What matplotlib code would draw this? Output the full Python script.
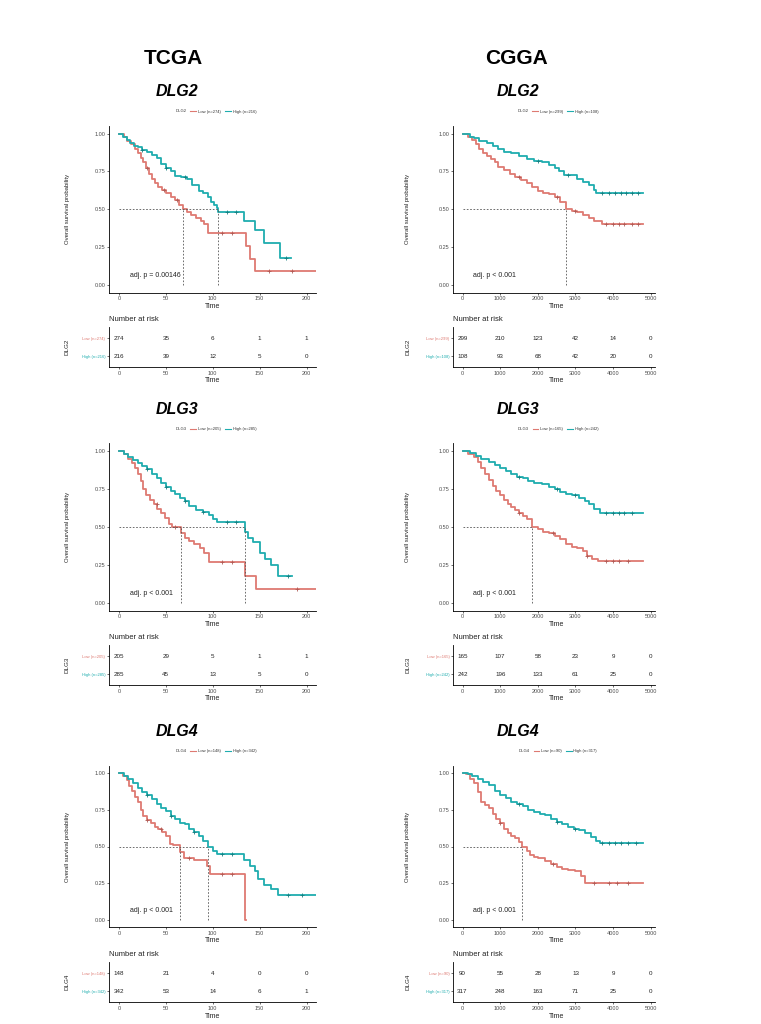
import numpy as np
import matplotlib
matplotlib.use("Agg")
import matplotlib.pyplot as plt
from matplotlib.lines import Line2D

plt.rcParams['font.family'] = ['Liberation Sans', 'DejaVu Sans']

# ---------------- data ----------------
genes = ["DLG2", "DLG3", "DLG4"]
cohorts = ["TCGA", "CGGA"]

# TCGA curves (time, survival) step points
tcga_dlg2_low_t = [0, 5, 9, 13, 17, 20, 23, 26, 29, 32, 35, 38, 42, 46, 50, 55, 60, 64, 68, 72, 77, 82, 87, 91, 95, 135, 140, 145, 210]
tcga_dlg2_low_s = [1.0, 0.98, 0.95, 0.93, 0.90, 0.87, 0.84, 0.81, 0.77, 0.73, 0.70, 0.67, 0.65, 0.63, 0.61, 0.58, 0.56, 0.53, 0.50, 0.48, 0.46, 0.44, 0.42, 0.40, 0.34, 0.26, 0.17, 0.09, 0.09]
tcga_dlg2_high_t = [0, 4, 8, 12, 16, 20, 25, 30, 35, 40, 45, 50, 55, 60, 66, 72, 78, 85, 90, 95, 98, 101, 104, 106, 133, 145, 155, 172, 183]
tcga_dlg2_high_s = [1.0, 0.98, 0.96, 0.94, 0.92, 0.91, 0.89, 0.88, 0.86, 0.84, 0.80, 0.77, 0.75, 0.72, 0.71, 0.70, 0.66, 0.62, 0.61, 0.58, 0.55, 0.53, 0.51, 0.48, 0.42, 0.36, 0.28, 0.18, 0.18]

tcga_dlg3_low_t = [0, 5, 10, 14, 17, 20, 23, 26, 29, 33, 37, 41, 45, 49, 53, 57, 66, 70, 75, 80, 86, 91, 96, 134, 146, 210]
tcga_dlg3_low_s = [1.0, 0.98, 0.95, 0.92, 0.89, 0.85, 0.80, 0.75, 0.71, 0.68, 0.65, 0.62, 0.59, 0.56, 0.52, 0.50, 0.46, 0.43, 0.41, 0.39, 0.36, 0.33, 0.27, 0.18, 0.09, 0.09]
tcga_dlg3_high_t = [0, 5, 10, 15, 20, 25, 30, 35, 40, 45, 50, 55, 60, 65, 70, 75, 82, 90, 96, 100, 105, 134, 138, 143, 150, 156, 162, 170, 184]
tcga_dlg3_high_s = [1.0, 0.98, 0.96, 0.94, 0.92, 0.90, 0.88, 0.85, 0.82, 0.79, 0.76, 0.74, 0.72, 0.69, 0.67, 0.64, 0.61, 0.60, 0.58, 0.55, 0.53, 0.47, 0.43, 0.40, 0.33, 0.29, 0.25, 0.18, 0.18]

tcga_dlg4_low_t = [0, 4, 8, 11, 14, 17, 20, 23, 26, 30, 34, 38, 42, 46, 50, 54, 58, 65, 69, 80, 94, 97, 134, 135]
tcga_dlg4_low_s = [1.0, 0.98, 0.95, 0.91, 0.88, 0.84, 0.80, 0.75, 0.71, 0.68, 0.66, 0.63, 0.62, 0.60, 0.57, 0.52, 0.51, 0.46, 0.42, 0.41, 0.37, 0.31, 0.0, 0.0]
tcga_dlg4_high_t = [0, 5, 10, 15, 20, 25, 30, 35, 40, 45, 50, 55, 60, 65, 70, 75, 80, 85, 90, 95, 100, 105, 133, 140, 145, 148, 155, 162, 170, 210]
tcga_dlg4_high_s = [1.0, 0.98, 0.96, 0.93, 0.90, 0.87, 0.85, 0.82, 0.79, 0.76, 0.74, 0.71, 0.69, 0.66, 0.65, 0.62, 0.60, 0.57, 0.54, 0.50, 0.47, 0.45, 0.41, 0.37, 0.33, 0.28, 0.24, 0.21, 0.17, 0.17]

# CGGA curves
cgga_dlg2_low_t = [0, 150, 250, 350, 450, 550, 650, 750, 850, 950, 1100, 1250, 1400, 1550, 1700, 1850, 2000, 2150, 2300, 2450, 2600, 2750, 2900, 3050, 3200, 3350, 3500, 3700, 4800]
cgga_dlg2_low_s = [1.0, 0.98, 0.96, 0.93, 0.90, 0.87, 0.85, 0.83, 0.81, 0.78, 0.76, 0.73, 0.71, 0.69, 0.67, 0.65, 0.62, 0.61, 0.60, 0.58, 0.55, 0.50, 0.49, 0.48, 0.46, 0.44, 0.42, 0.40, 0.40]
cgga_dlg2_high_t = [0, 200, 300, 450, 650, 800, 950, 1100, 1300, 1500, 1700, 1900, 2100, 2300, 2450, 2550, 2700, 3050, 3200, 3350, 3500, 3550, 4800]
cgga_dlg2_high_s = [1.0, 0.98, 0.97, 0.95, 0.94, 0.92, 0.90, 0.88, 0.87, 0.85, 0.83, 0.82, 0.81, 0.79, 0.77, 0.75, 0.725, 0.70, 0.68, 0.66, 0.63, 0.61, 0.61]

cgga_dlg3_low_t = [0, 150, 300, 400, 500, 600, 700, 800, 900, 1000, 1100, 1200, 1300, 1400, 1500, 1600, 1700, 1850, 2000, 2150, 2300, 2450, 2600, 2750, 2900, 3050, 3200, 3300, 3450, 3600, 4800]
cgga_dlg3_low_s = [1.0, 0.98, 0.96, 0.93, 0.89, 0.85, 0.81, 0.77, 0.74, 0.71, 0.68, 0.65, 0.63, 0.61, 0.59, 0.57, 0.55, 0.50, 0.49, 0.47, 0.46, 0.44, 0.42, 0.39, 0.37, 0.36, 0.34, 0.31, 0.29, 0.275, 0.275]
cgga_dlg3_high_t = [0, 200, 350, 500, 700, 850, 1000, 1150, 1300, 1450, 1600, 1750, 1900, 2100, 2300, 2450, 2600, 2750, 2900, 3100, 3250, 3350, 3500, 3650, 4800]
cgga_dlg3_high_s = [1.0, 0.99, 0.97, 0.95, 0.93, 0.91, 0.89, 0.87, 0.85, 0.83, 0.82, 0.80, 0.79, 0.78, 0.765, 0.75, 0.73, 0.72, 0.71, 0.69, 0.67, 0.65, 0.62, 0.595, 0.595]

cgga_dlg4_low_t = [0, 100, 200, 300, 400, 500, 600, 700, 800, 900, 1000, 1100, 1200, 1300, 1400, 1500, 1590, 1700, 1800, 1900, 2000, 2200, 2350, 2500, 2650, 2800, 3000, 3150, 3250, 4800]
cgga_dlg4_low_s = [1.0, 0.99, 0.96, 0.93, 0.87, 0.80, 0.78, 0.76, 0.72, 0.69, 0.66, 0.62, 0.59, 0.57, 0.555, 0.53, 0.50, 0.47, 0.44, 0.43, 0.42, 0.40, 0.38, 0.36, 0.35, 0.34, 0.33, 0.30, 0.255, 0.255]
cgga_dlg4_high_t = [0, 150, 250, 400, 550, 700, 850, 1000, 1150, 1300, 1450, 1600, 1750, 1900, 2050, 2200, 2350, 2500, 2650, 2800, 2950, 3100, 3250, 3400, 3550, 3650, 4800]
cgga_dlg4_high_s = [1.0, 0.99, 0.98, 0.96, 0.94, 0.915, 0.88, 0.85, 0.83, 0.80, 0.79, 0.775, 0.75, 0.735, 0.72, 0.715, 0.69, 0.67, 0.65, 0.635, 0.62, 0.61, 0.59, 0.565, 0.54, 0.525, 0.525]

# censor marks (times)
tcga_censor_low = [[30, 48, 62, 110, 120, 160, 185], [40, 60, 110, 120, 190], [30, 45, 75, 110, 120]]
tcga_censor_high = [[25, 50, 70, 115, 125, 178], [30, 50, 70, 90, 115, 125, 180], [30, 55, 80, 110, 120, 180, 195]]
cgga_censor_low = [[1500, 2500, 3000, 3800, 4000, 4150, 4300, 4500, 4650], [1500, 2400, 3300, 3800, 4000, 4150, 4400], [1000, 2400, 3500, 3900, 4100, 4400]]
cgga_censor_high = [[2000, 2800, 3700, 3900, 4050, 4200, 4350, 4500, 4650], [1500, 2500, 3000, 3800, 4000, 4150, 4300, 4500], [1500, 2500, 3000, 3700, 3900, 4050, 4200, 4400, 4600]]

# group sizes
tcga_n_low = [274, 205, 148]
tcga_n_high = [216, 285, 342]
cgga_n_low = [299, 165, 90]
cgga_n_high = [108, 242, 317]

# number at risk
tcga_risk_times = [0, 50, 100, 150, 200]
tcga_risk_low = [[274, 35, 6, 1, 1], [205, 29, 5, 1, 1], [148, 21, 4, 0, 0]]
tcga_risk_high = [[216, 39, 12, 5, 0], [285, 45, 13, 5, 0], [342, 53, 14, 6, 1]]
cgga_risk_times = [0, 1000, 2000, 3000, 4000, 5000]
cgga_risk_low = [[299, 210, 123, 42, 14, 0], [165, 107, 58, 23, 9, 0], [90, 55, 28, 13, 9, 0]]
cgga_risk_high = [[108, 93, 68, 42, 20, 0], [242, 196, 133, 61, 25, 0], [317, 248, 163, 71, 25, 0]]

# median survival and p values
tcga_medians = [[68, 106], [66, 134], [65, 95]]
cgga_medians = [[2750], [1850], [1590]]
tcga_pvals = ["adj. p = 0.00146", "adj. p < 0.001", "adj. p < 0.001"]
cgga_pvals = ["adj. p < 0.001", "adj. p < 0.001", "adj. p < 0.001"]

tcga_curves = [
    (tcga_dlg2_low_t, tcga_dlg2_low_s, tcga_dlg2_high_t, tcga_dlg2_high_s),
    (tcga_dlg3_low_t, tcga_dlg3_low_s, tcga_dlg3_high_t, tcga_dlg3_high_s),
    (tcga_dlg4_low_t, tcga_dlg4_low_s, tcga_dlg4_high_t, tcga_dlg4_high_s),
]
cgga_curves = [
    (cgga_dlg2_low_t, cgga_dlg2_low_s, cgga_dlg2_high_t, cgga_dlg2_high_s),
    (cgga_dlg3_low_t, cgga_dlg3_low_s, cgga_dlg3_high_t, cgga_dlg3_high_s),
    (cgga_dlg4_low_t, cgga_dlg4_low_s, cgga_dlg4_high_t, cgga_dlg4_high_s),
]

# ---------------- layout (pixels) ----------------
W, H = 761, 1024
RED = "#DE7A72"
TEAL = "#1FADAF"
GREY = "#4D4D4D"

one_y = [133.5, 451, 773]
zero_y = [285, 603, 920]

col_cfg = [
    dict(x0=119, scale=0.9375, xlim=(-10.5, 210), ticks=[0, 50, 100, 150, 200],
         title_x=173, gene_x=177, leg_x=212, lab_x=67, p_x=12,
         curves=tcga_curves, cl=tcga_censor_low, ch=tcga_censor_high,
         nl=tcga_n_low, nh=tcga_n_high, rt=tcga_risk_times, rl=tcga_risk_low, rh=tcga_risk_high,
         med=tcga_medians, pv=tcga_pvals),
    dict(x0=462.5, scale=0.03766, xlim=(-240, 5120), ticks=[0, 1000, 2000, 3000, 4000, 5000],
         title_x=517, gene_x=518, leg_x=554, lab_x=408, p_x=290,
         curves=cgga_curves, cl=cgga_censor_low, ch=cgga_censor_high,
         nl=cgga_n_low, nh=cgga_n_high, rt=cgga_risk_times, rl=cgga_risk_low, rh=cgga_risk_high,
         med=cgga_medians, pv=cgga_pvals),
]


def px_axes(fig, left, top, right, bottom):
    return fig.add_axes([left / W, 1 - bottom / H, (right - left) / W, (bottom - top) / H])


def style_axes(ax):
    for s in ["top", "right"]:
        ax.spines[s].set_visible(False)
    for s in ["left", "bottom"]:
        ax.spines[s].set_linewidth(0.6)
    ax.tick_params(length=1.6, width=0.5, pad=1.2, labelsize=4, labelcolor=GREY, color="#333333")


def surv_at(t, s, x):
    i = np.searchsorted(t, x, side="right") - 1
    return np.array(s)[i]


fig = plt.figure(figsize=(W / 100, H / 100), dpi=100)

for c, cfg in enumerate(col_cfg):
    xl = cfg["x0"] + cfg["xlim"][0] * cfg["scale"]
    xr = cfg["x0"] + cfg["xlim"][1] * cfg["scale"]
    fig.text(cfg["title_x"] / W, 1 - 59 / H, cohorts[c], ha="center", va="center",
             fontsize=15, fontweight="bold")

    for r, gene in enumerate(genes):
        y1, y0 = one_y[r], zero_y[r]
        span = y0 - y1
        lt, ls, ht, hs = cfg["curves"][r]

        fig.text(cfg["gene_x"] / W, 1 - (y1 - 42) / H, gene, ha="center", va="center",
                 fontsize=11.5, fontweight="bold", style="italic")

        km = px_axes(fig, xl, y1 - 0.05 * span, xr, y0 + 0.05 * span)
        style_axes(km)
        km.step(lt, ls, where="post", color=RED, lw=1.3)
        km.step(ht, hs, where="post", color=TEAL, lw=1.3)
        km.plot(cfg["cl"][r], surv_at(lt, ls, cfg["cl"][r]), "+", color="#B05A55", ms=2.4, mew=0.6)
        km.plot(cfg["ch"][r], surv_at(ht, hs, cfg["ch"][r]), "+", color="#147F80", ms=2.4, mew=0.6)

        meds = cfg["med"][r]
        km.plot([0, max(meds)], [0.5, 0.5], color="#555555", lw=0.6, ls=(0, (2, 2)))
        for m in meds:
            km.plot([m, m], [0, 0.5], color="#555555", lw=0.6, ls=(0, (2, 2)))

        km.set_xlim(*cfg["xlim"])
        km.set_ylim(-0.05, 1.05)
        km.set_xticks(cfg["ticks"])
        km.set_yticks([0, 0.25, 0.5, 0.75, 1.0])
        km.set_yticklabels(["0.00", "0.25", "0.50", "0.75", "1.00"])
        km.text(cfg["p_x"], 0.065, cfg["pv"][r], fontsize=5, color="#222222", va="center")
        fig.text(cfg["lab_x"] / W, 1 - (y1 + y0) / 2 / H, "Overall survival probability",
                 rotation=90, ha="center", va="center", fontsize=4.3, color="#222222")
        fig.text((cfg["x0"] + (cfg["ticks"][-1] / 2) * cfg["scale"]) / W, 1 - (y0 + 21) / H, "Time",
                 ha="center", va="center", fontsize=5, color="#222222")

        # legend above the plot
        handles = [Line2D([], [], color="none"),
                   Line2D([], [], color=RED, lw=0.8),
                   Line2D([], [], color=TEAL, lw=0.8)]
        labels = [gene, "Low (n=%d)" % cfg["nl"][r], "High (n=%d)" % cfg["nh"][r]]
        fig.legend(handles, labels, ncol=3, loc="center", frameon=False, fontsize=3,
                   bbox_to_anchor=(cfg["leg_x"] / W, 1 - (y1 - 22) / H),
                   handlelength=1.4, handletextpad=0.4, columnspacing=1.0, labelcolor="#333333")

        # risk table
        tb_bottom = y0 + 82
        tb = px_axes(fig, xl, tb_bottom - 39.6, xr, tb_bottom)
        style_axes(tb)
        tb.set_xlim(*cfg["xlim"])
        tb.set_ylim(0.4, 2.6)
        tb.set_xticks(cfg["ticks"])
        tb.set_yticks([2, 1])
        tb.set_yticklabels(["Low (n=%d)" % cfg["nl"][r], "High (n=%d)" % cfg["nh"][r]], fontsize=3)
        for lab, colr in zip(tb.get_yticklabels(), [RED, TEAL]):
            lab.set_color(colr)
        for x, n in zip(cfg["rt"], cfg["rl"][r]):
            tb.text(x, 2, str(n), ha="center", va="center", fontsize=4.5, color="#222222")
        for x, n in zip(cfg["rt"], cfg["rh"][r]):
            tb.text(x, 1, str(n), ha="center", va="center", fontsize=4.5, color="#222222")
        fig.text(xl / W, 1 - (tb_bottom - 39.6 - 8) / H, "Number at risk",
                 ha="left", va="center", fontsize=5.5, color="#222222")
        fig.text(cfg["lab_x"] / W, 1 - (tb_bottom - 19.8) / H, gene, rotation=90,
                 ha="center", va="center", fontsize=4.5, color="#222222")
        fig.text((cfg["x0"] + (cfg["ticks"][-1] / 2) * cfg["scale"]) / W, 1 - (tb_bottom + 14) / H, "Time",
                 ha="center", va="center", fontsize=5, color="#222222")

fig.savefig("out.png", dpi=100)
